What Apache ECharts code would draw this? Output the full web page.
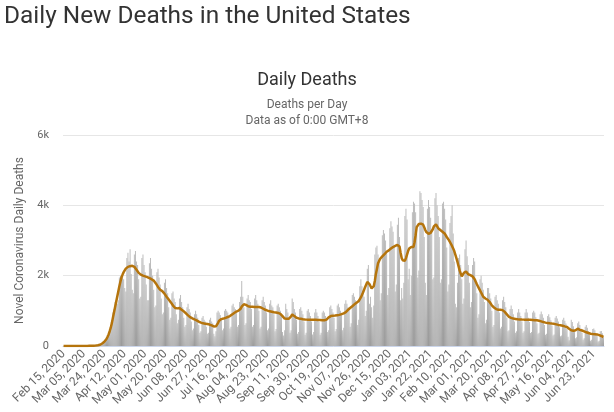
<!DOCTYPE html>
<html><head><meta charset="utf-8">
<script src="https://cdn.jsdelivr.net/npm/echarts@6/dist/echarts.min.js"></script>
<style>html,body{margin:0;padding:0;background:#fff}#c{width:614px;height:412px}</style>
</head><body><div id="c"></div>
<script>
var startDate = '2020-02-15';
var yTicks = [0, 2000, 4000, 6000];
var yTickLabels = ['0', '2k', '4k', '6k'];
var dailyDeaths = [
0,0,0,0,0,0,0,
0,0,0,0,0,0,0,
1,0,1,2,1,2,1,
2,3,4,3,5,6,8,
9,10,12,18,22,30,45,
55,80,100,130,170,220,280,
380,450,520,740,950,1050,1250,
1300,1200,1300,1950,2000,1950,2100,
1900,1650,1550,2500,2650,2400,2750,
2050,1600,1500,2600,2700,2400,2300,
1900,1350,1400,2500,2600,2300,2100,
1750,1300,1300,2350,2500,2200,2000,
1600,1100,1150,2100,2200,1950,1750,
1350,900,950,1800,1900,1650,1500,
1100,750,800,1500,1550,1350,1250,
900,650,750,1350,1450,1250,1100,
800,550,600,1100,1200,1050,950,
700,450,500,900,1000,900,800,
600,380,420,800,850,750,700,
550,350,380,750,800,700,650,
350,280,420,950,1000,950,880,
750,450,500,1000,1050,1000,950,
850,500,550,1150,1200,1100,1050,
950,550,600,1250,1400,1850,1400,
1100,600,650,1350,1450,1300,1250,
1050,550,600,1350,1450,1300,1200,
1000,500,550,1300,1400,1250,1150,
950,450,500,1200,1300,1150,1100,
900,420,480,1150,1200,1100,1000,
850,400,300,450,1200,1050,950,
750,380,450,1350,1250,1050,950,
750,350,400,1050,1100,1000,900,
700,320,380,1000,1050,950,850,
700,330,400,950,1050,950,850,
680,320,380,950,1000,950,850,
750,400,450,1100,1150,1050,950,
800,420,480,1150,1200,1100,1000,
900,450,520,1200,1300,1200,1100,
1050,550,650,1450,1500,1400,1300,
1200,600,750,1700,1900,1700,1500,
1400,850,1000,2200,2300,1200,1400,
1100,800,1150,2600,2800,2850,2600,
2400,1300,1500,3150,3300,3200,3000,
2700,1450,1650,3350,3550,3400,3250,
2800,1550,1750,3450,3650,3100,1300,
1650,1350,1800,3700,3900,3600,1900,
2200,1450,2000,3800,4100,4050,3800,
3200,1950,2150,4400,4350,4150,3950,
3100,1800,1450,3900,4150,3950,3650,
3300,1900,1950,4200,4350,4000,3700,
3100,1800,1900,4050,4100,3900,3600,
2800,1550,1750,3500,3700,4000,3200,
2400,1200,1100,1800,2500,2600,2300,
1900,1200,1350,2750,3000,2550,2300,
1800,1100,1250,2300,2500,2400,1900,
1500,800,900,1900,2000,1800,1600,
1250,650,750,1650,1650,1500,1350,
1000,550,600,1400,1450,1300,1200,
950,500,550,1300,1400,1250,1100,
800,420,450,1050,1150,1050,900,
700,380,420,950,1050,950,850,
700,380,420,950,1050,950,800,
680,370,400,950,1000,950,820,
650,350,380,900,980,900,800,
600,320,350,850,900,820,730,
580,300,330,800,850,780,700,
530,280,300,750,800,720,640,
480,260,160,500,750,680,560,
430,220,250,650,700,600,500,
380,180,220,550,600,520,420,
320,150,180,480,500,450,350,
290,130,150,420,430,360,250
];
var movingAvg = [
0,0,0,0,0,0,0,
0,0,0,0,0,0,0,
1,1,1,1,1,2,2,
2,3,3,4,5,5,7,
8,10,13,16,20,27,35,
50,70,90,120,155,200,260,
330,420,520,650,800,950,1100,
1250,1400,1550,1700,1830,1950,2030,
2100,2150,2200,2230,2250,2260,2270,
2280,2280,2270,2250,2210,2170,2120,
2080,2050,2030,2010,2000,1990,1980,
1970,1960,1950,1930,1920,1900,1880,
1860,1820,1780,1730,1680,1640,1600,
1580,1560,1530,1490,1440,1400,1360,
1320,1280,1240,1190,1150,1110,1080,
1070,1070,1075,1080,1060,1030,1005,
985,960,930,900,870,845,820,
800,785,770,755,740,730,715,
695,680,665,650,645,640,635,
630,625,620,610,600,585,570,
555,540,560,600,660,720,745,
765,770,780,790,800,810,825,
840,850,870,895,920,940,960,
980,995,1005,1015,1060,1120,1160,
1185,1180,1170,1150,1130,1120,1115,
1115,1115,1112,1110,1110,1110,1110,
1110,1110,1095,1080,1060,1045,1030,
1015,1005,995,990,980,975,967,
960,955,950,945,940,930,915,
890,850,815,780,775,775,775,
778,780,840,900,880,850,825,
805,795,785,780,775,768,760,
755,752,750,750,750,750,750,
750,750,750,748,746,744,742,
740,738,736,734,732,731,730,
750,780,815,843,850,855,858,
860,865,870,875,880,885,890,
905,920,930,940,965,1000,1030,
1055,1080,1105,1130,1160,1185,1210,
1230,1255,1280,1330,1380,1450,1520,
1600,1680,1750,1820,1800,1760,1700,
1640,1650,1700,1850,2050,2200,2350,
2420,2480,2520,2550,2580,2610,2650,
2680,2700,2720,2750,2770,2790,2815,
2830,2845,2860,2875,2890,2830,2650,
2500,2440,2390,2420,2500,2600,2700,
2770,2815,2815,2815,2815,2950,3150,
3380,3430,3470,3475,3480,3470,3450,
3380,3300,3240,3190,3190,3200,3220,
3240,3320,3400,3440,3460,3420,3350,
3320,3300,3280,3250,3230,3200,3150,
3100,3060,3010,2960,2900,2840,2770,
2700,2600,2500,2390,2270,2150,2060,
1980,2020,2080,2110,2120,2100,2040,
2020,2015,2010,1980,1940,1900,1830,
1760,1700,1640,1580,1520,1460,1400,
1370,1350,1330,1315,1300,1250,1200,
1155,1120,1095,1070,1050,1030,1030,
1030,1030,1025,1020,995,970,940,
900,865,830,815,800,790,780,
775,770,765,760,758,756,754,
752,751,750,750,750,750,750,
748,745,742,740,738,735,732,
730,725,718,710,700,690,680,
672,665,660,655,650,645,641,
637,634,630,622,615,607,600,
595,588,582,575,566,557,548,
540,515,490,470,450,430,435,
445,450,470,493,480,460,440,
440,430,415,400,390,380,370,
360,350,345,342,340,337,335,
330,320,310,300,285,270,256
];
var monthNames = ['Jan','Feb','Mar','Apr','May','Jun','Jul','Aug','Sep','Oct','Nov','Dec'];
var categories = [];
(function(){
  var d = new Date(startDate + 'T00:00:00Z');
  for (var i = 0; i < dailyDeaths.length; i++) {
    var dd = d.getUTCDate();
    categories.push(monthNames[d.getUTCMonth()] + ' ' + (dd < 10 ? '0' + dd : dd) + ', ' + d.getUTCFullYear());
    d.setUTCDate(d.getUTCDate() + 1);
  }
})();
var chart = echarts.init(document.getElementById('c'));
var font = 'Roboto, "Noto Sans", sans-serif';
chart.setOption({
  animation: false,
  textStyle: {fontFamily: font},
  title: [
    {text: 'Daily New Deaths in the United States', left: -1, top: 0,
     textStyle: {fontSize: 24.4, fontWeight: 'normal', color: '#333', fontFamily: font}},
    {text: 'Daily Deaths', left: 'center', top: 66,
     textStyle: {fontSize: 18, fontWeight: 'normal', color: '#333', fontFamily: font}},
    {text: 'Deaths per Day', left: 'center', top: 94,
     textStyle: {fontSize: 12, fontWeight: 'normal', color: '#666', fontFamily: font}},
    {text: 'Data as of 0:00 GMT+8', left: 'center', top: 110,
     textStyle: {fontSize: 12, fontWeight: 'normal', color: '#666', fontFamily: font}}
  ],
  grid: {left: 63, right: 10, top: 135, bottom: 66},
  xAxis: {
    type: 'category', data: categories, boundaryGap: true,
    axisLine: {lineStyle: {color: '#ccd6eb'}},
    axisTick: {show: false},
    axisLabel: {interval: 18, rotate: 45, fontSize: 12, color: '#666', margin: 6, fontFamily: font}
  },
  yAxis: {
    type: 'value', min: 0, max: 6000, interval: 2000,
    name: 'Novel Coronavirus Daily Deaths', nameLocation: 'middle', nameGap: 33,
    nameTextStyle: {fontSize: 12, color: '#666', fontFamily: font},
    axisLine: {show: false}, axisTick: {show: false},
    splitLine: {lineStyle: {color: '#e6e6e6'}},
    axisLabel: {fontSize: 11, color: '#666', margin: 14, fontFamily: font,
      formatter: function(v){ var k = yTicks.indexOf(v); return k >= 0 ? yTickLabels[k] : ''; }}
  },
  series: [
    {type: 'bar', data: dailyDeaths, barCategoryGap: '15%',
     itemStyle: {color: new echarts.graphic.LinearGradient(0, 0, 0, 1, [
       {offset: 0, color: '#bdbdbd'}, {offset: 1, color: '#9a9a9a'}])}},
    {type: 'line', data: movingAvg, symbol: 'none', smooth: false,
     lineStyle: {color: '#b5740c', width: 2.5}, z: 3}
  ]
});
</script></body></html>
